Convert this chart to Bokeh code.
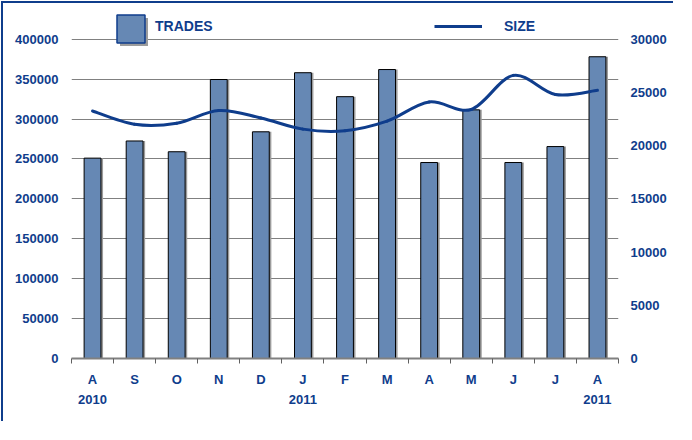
from bokeh.plotting import figure
from bokeh.models import (Range1d, LinearAxis, FixedTicker, ColumnDataSource,
                          Legend, LegendItem, NumeralTickFormatter)
from bokeh.transform import dodge
from bokeh.embed import file_html
from bokeh.resources import INLINE

months = ["A", "S", "O", "N", "D", "J", "F", "M", "A", "M", "J", "J", "A"]
year_labels = {0: "2010", 5: "2011", 12: "2011"}
trades = [251000, 272500, 259000, 349500, 284000, 358000, 328000,
          362000, 245500, 311500, 245500, 265500, 378000]
size = [23250, 22000, 22100, 23300, 22600, 21550, 21400,
        22300, 24100, 23400, 26600, 24800, 25200]
left_ticks = list(range(0, 400001, 50000))
right_ticks = list(range(0, 30001, 5000))
left_max, right_max = 400000, 30000

NAVY = "#0F3D8C"
BAR = "#6688B4"
SHADOW = "#9C9C9C"
FONT = "Liberation Sans"
NAN = float("nan")

# layout (canvas pixels)
W, H = 672, 420
B_LEFT, B_RIGHT, B_TOP, B_BOTTOM = 68, 57, 3, 65
FRAME_H = H - B_TOP - B_BOTTOM
AXIS_TOP = 35.7            # canvas y where the top tick (400000 / 30000) sits
frac = FRAME_H / (H - B_BOTTOM - AXIS_TOP)

n = len(months)
xs = [i + 0.5 for i in range(n)]
src = ColumnDataSource(dict(x=xs, trades=trades, size=size))

# smooth (Catmull-Rom style) bezier segments through the SIZE points
seg = dict(x0=[], y0=[], x1=[], y1=[], cx0=[], cy0=[], cx1=[], cy1=[])
for i in range(n - 1):
    a = i - 1 if i > 0 else i
    d = i + 2 if i + 2 < n else i + 1
    seg["x0"].append(xs[i]); seg["y0"].append(size[i])
    seg["x1"].append(xs[i + 1]); seg["y1"].append(size[i + 1])
    seg["cx0"].append(xs[i] + (xs[i + 1] - xs[a]) / 6)
    seg["cy0"].append(size[i] + (size[i + 1] - size[a]) / 6)
    seg["cx1"].append(xs[i + 1] - (xs[d] - xs[i]) / 6)
    seg["cy1"].append(size[i + 1] - (size[d] - size[i]) / 6)

p = figure(width=W, height=H, output_backend="svg", toolbar_location=None,
           x_range=Range1d(0, n), y_range=Range1d(0, left_max * frac),
           min_border_left=B_LEFT, min_border_right=B_RIGHT, min_border_top=B_TOP,
           min_border_bottom=B_BOTTOM)
p.extra_y_ranges = {"right": Range1d(0, right_max * frac)}
p.outline_line_color = None
p.background_fill_color = "white"
p.styles = {"border-left": f"2px solid {NAVY}", "border-top": f"2px solid {NAVY}",
            "margin-left": "1px", "margin-top": "1px"}

p.xgrid.visible = False
p.ygrid.ticker = FixedTicker(ticks=left_ticks)
p.ygrid.grid_line_color = "#808080"
p.ygrid.grid_line_width = 1


def style_labels(ax):
    ax.major_label_text_font = FONT
    ax.major_label_text_font_style = "bold"
    ax.major_label_text_font_size = "13px"
    ax.major_label_text_color = NAVY


# left axis
ya = p.yaxis[0]
ya.ticker = FixedTicker(ticks=left_ticks)
ya.formatter = NumeralTickFormatter(format="0")
ya.axis_line_color = None
ya.major_tick_line_color = None
ya.minor_tick_line_color = None
ya.major_tick_out = 0
ya.minor_tick_out = 0
ya.major_label_standoff = 13
style_labels(ya)

# right axis
ra = LinearAxis(y_range_name="right", ticker=FixedTicker(ticks=right_ticks),
                formatter=NumeralTickFormatter(format="0"))
ra.axis_line_color = None
ra.major_tick_line_color = None
ra.minor_tick_line_color = None
ra.major_tick_out = 0
ra.minor_tick_out = 0
ra.major_label_standoff = 12
style_labels(ra)
p.add_layout(ra, "right")

# bottom axis: month letters, tick marks at category boundaries
xa = p.xaxis[0]
xa.ticker = FixedTicker(ticks=xs, minor_ticks=list(range(n + 1)))
xa.major_label_overrides = {xs[i]: months[i] for i in range(n)}
xa.axis_line_color = "#808080"
xa.axis_line_width = 2
xa.major_tick_line_color = None
xa.major_tick_out = 0
xa.major_tick_in = 0
xa.minor_tick_line_color = "#606060"
xa.minor_tick_out = 5
xa.minor_tick_in = 0
xa.major_label_standoff = 8
style_labels(xa)

# second bottom axis: years
ya2 = LinearAxis(ticker=FixedTicker(ticks=[xs[k] for k in year_labels], minor_ticks=[]))
ya2.major_label_overrides = {xs[k]: v for k, v in year_labels.items()}
ya2.axis_line_color = None
ya2.major_tick_line_color = None
ya2.minor_tick_line_color = None
ya2.major_tick_out = 0
ya2.minor_tick_out = 0
ya2.major_label_standoff = 5
style_labels(ya2)
p.add_layout(ya2, "below")

# bars with shadow
p.vbar(x=dodge("x", 0.05, range=p.x_range), top="trades", width=0.4, source=src,
       fill_color=SHADOW, line_color=None)
p.vbar(x="x", top="trades", width=0.4, source=src, fill_color=BAR,
       line_color="black", line_width=1)

# smoothed size line
p.bezier(x0="x0", y0="y0", x1="x1", y1="y1", cx0="cx0", cy0="cy0", cx1="cx1",
         cy1="cy1", source=ColumnDataSource(seg), y_range_name="right",
         line_color=NAVY, line_width=3, line_cap="round")

# legend proxies (no visible data)
leg_shadow = p.vbar(x=[NAN], top=[NAN], width=0.4, fill_color=SHADOW, line_color=None)
leg_bar = p.vbar(x=[NAN], top=[NAN], width=0.4, fill_color=BAR, line_color=NAVY,
                 line_width=1.5)
leg_blank = p.line(x=[NAN, NAN], y=[NAN, NAN], line_alpha=0)
leg_line = p.line(x=[NAN, NAN], y=[NAN, NAN], line_color=NAVY, line_width=3,
                  y_range_name="right")


def make_legend(item, loc, gw, gh, standoff):
    lg = Legend(items=[item], location=loc, glyph_width=gw, glyph_height=gh,
                label_height=gh, label_standoff=standoff, padding=0, margin=0,
                spacing=0, border_line_color=None, background_fill_alpha=0,
                label_text_font=FONT, label_text_font_style="bold",
                label_text_font_size="14px", label_text_color=NAVY,
                label_text_baseline="middle")
    p.add_layout(lg, "center")


# TRADES: square (with shadow) and its text
make_legend(LegendItem(label=" ", renderers=[leg_shadow]), (45, 309), 35, 35, 0)
make_legend(LegendItem(label=" ", renderers=[leg_bar]), (42, 312), 35, 35, 0)
make_legend(LegendItem(label="TRADES", renderers=[leg_blank]), (42, 322), 35, 20, 7)
# SIZE: line and its text
make_legend(LegendItem(label="SIZE", renderers=[leg_line]), (363, 322), 48, 20, 22)

open("out.html", "w").write(file_html(p, INLINE))
